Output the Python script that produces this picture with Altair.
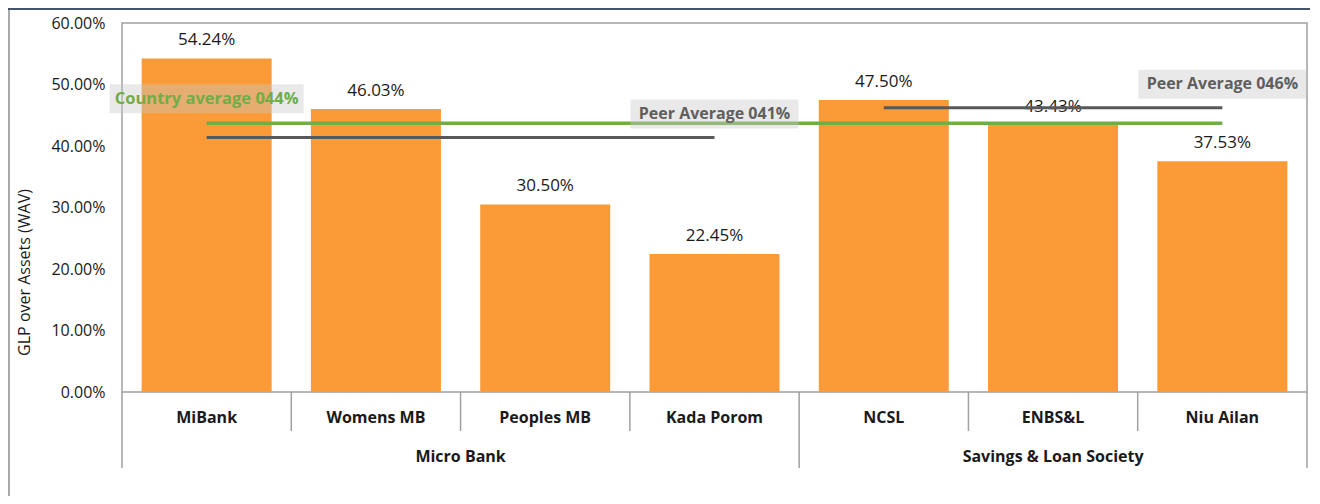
import altair as alt
import pandas as pd

# ---- data ----
categories = ["MiBank", "Womens MB", "Peoples MB", "Kada Porom", "NCSL", "ENBS&L", "Niu Ailan"]
groups = ["Micro Bank", "Micro Bank", "Micro Bank", "Micro Bank",
          "Savings & Loan Society", "Savings & Loan Society", "Savings & Loan Society"]
values = [0.5424, 0.4603, 0.3050, 0.2245, 0.4750, 0.4343, 0.3753]
group_names = ["Micro Bank", "Savings & Loan Society"]
peer_avgs = [0.414, 0.462]
peer_labels = ["Peer Average 041%", "Peer Average 046%"]
country_avg = 0.437
country_label = "Country average 044%"
y_ticks = [0.0, 0.1, 0.2, 0.3, 0.4, 0.5, 0.6]

# ---- style ----
FONT = "Open Sans"
ORANGE = "#FB9B37"
GREEN = "#70AD47"
GRAY_LINE = "#595959"
FRAME = "#A0A0A0"
W, H = 1185, 369

n = len(categories)
bars_df = pd.DataFrame({"idx": list(range(n)), "category": categories,
                        "group": groups, "value": values})

rows = []
for g, avg, lab in zip(group_names, peer_avgs, peer_labels):
    ids = [i for i, gg in enumerate(groups) if gg == g]
    rows.append({"group": g, "start": min(ids), "end": max(ids) + 1,
                 "avg": avg, "label": lab})
grp_df = pd.DataFrame(rows)

sep_rows = []
group_starts = set(grp_df["start"]) | {n}
for b in range(n + 1):
    sep_rows.append({"pos": b, "long": b in group_starts})
sep_df = pd.DataFrame(sep_rows)

country_df = pd.DataFrame({"first": [0], "last": [n - 1], "avg": [country_avg],
                           "label": [country_label]})

xscale = alt.Scale(domain=[0, n], nice=False, zero=False)
yscale = alt.Scale(domain=[0, 0.6], nice=False)

yaxis = alt.Axis(values=y_ticks, format=".2%", title="GLP over Assets (WAV)",
                 grid=False, ticks=False, domain=False,
                 labelFont=FONT, labelFontSize=16, labelColor="#1a1a1a", labelPadding=17,
                 titleFont=FONT, titleFontSize=16, titleFontWeight="normal",
                 titleColor="#1a1a1a", titleX=-98, titleY=249, titleAngle=270,
                 titleAlign="center", titleBaseline="middle")

base = alt.Chart(bars_df).transform_calculate(
    x0="datum.idx + 0.116", x1="datum.idx + 0.884", center="datum.idx + 0.5")

bars = base.mark_bar(color=ORANGE).encode(
    x=alt.X("x0:Q", scale=xscale, axis=None), x2="x1:Q",
    y=alt.Y("value:Q", scale=yscale, axis=yaxis), y2=alt.datum(0))

value_labels = base.mark_text(dy=-18, baseline="middle", font=FONT, fontSize=17,
                              color="#1a1a1a").encode(
    x=alt.X("center:Q", scale=xscale), y=alt.Y("value:Q", scale=yscale),
    text=alt.Text("value:Q", format=".2%"))

cat_labels = base.mark_text(baseline="middle", font=FONT, fontSize=16,
                            fontWeight="bold", color="#1a1a1a").encode(
    x=alt.X("center:Q", scale=xscale), y=alt.value(395), text="category:N")

gbase = alt.Chart(grp_df).transform_calculate(
    mid="(datum.start + datum.end) / 2",
    c0="datum.start + 0.5", c1="datum.end - 0.5")

group_labels = gbase.mark_text(baseline="middle", font=FONT, fontSize=16,
                               fontWeight="bold", color="#1a1a1a").encode(
    x=alt.X("mid:Q", scale=xscale), y=alt.value(434), text="group:N")

sbase = alt.Chart(sep_df)
short_sep = sbase.transform_filter("!datum.long").mark_rule(
    color=FRAME, strokeWidth=1.5).encode(
    x=alt.X("pos:Q", scale=xscale), y=alt.value(H), y2=alt.value(408))
long_sep = sbase.transform_filter("datum.long").mark_rule(
    color=FRAME, strokeWidth=1.5).encode(
    x=alt.X("pos:Q", scale=xscale), y=alt.value(H), y2=alt.value(445))

peer_lines = gbase.mark_rule(color=GRAY_LINE, strokeWidth=3).encode(
    x=alt.X("c0:Q", scale=xscale), x2="c1:Q", y=alt.Y("avg:Q", scale=yscale))

cbase = alt.Chart(country_df).transform_calculate(
    c0="datum.first + 0.5", c1="datum.last + 0.5")

country_line = cbase.mark_rule(color=GREEN, strokeWidth=3.5).encode(
    x=alt.X("c0:Q", scale=xscale), x2="c1:Q", y=alt.Y("avg:Q", scale=yscale))

peer_box = gbase.mark_rect(color="#C8C8C8", opacity=0.4,
                           xOffset=-84, x2Offset=84, yOffset=-38, y2Offset=-9).encode(
    x=alt.X("c1:Q", scale=xscale), x2="c1:Q",
    y=alt.Y("avg:Q", scale=yscale), y2="avg:Q")
peer_text = gbase.mark_text(dy=-23.5, baseline="middle", font=FONT, fontSize=16,
                            fontWeight="bold", color="#5F5F5F").encode(
    x=alt.X("c1:Q", scale=xscale), y=alt.Y("avg:Q", scale=yscale), text="label:N")

country_box = cbase.mark_rect(color="#C8C8C8", opacity=0.4,
                              xOffset=-97, x2Offset=97, yOffset=-39, y2Offset=-10).encode(
    x=alt.X("c0:Q", scale=xscale), x2="c0:Q",
    y=alt.Y("avg:Q", scale=yscale), y2="avg:Q")
country_text = cbase.mark_text(dy=-24.5, baseline="middle", font=FONT, fontSize=16.5,
                               fontWeight="bold", color=GREEN).encode(
    x=alt.X("c0:Q", scale=xscale), y=alt.Y("avg:Q", scale=yscale), text="label:N")

frame_df = pd.DataFrame({"a": [0]})
left_edge = alt.Chart(frame_df).mark_rule(color="#8C8C8C", strokeWidth=1.5).encode(
    x=alt.value(-113), y=alt.value(-15), y2=alt.value(H + 104))
top_edge = alt.Chart(frame_df).mark_rule(color="#44546A", strokeWidth=2).encode(
    x=alt.value(-114), x2=alt.value(W + 3), y=alt.value(-14))

chart = alt.layer(
    bars, value_labels, peer_lines, country_line,
    peer_box, country_box, peer_text, country_text,
    cat_labels, group_labels, short_sep, long_sep, left_edge, top_edge
).properties(
    width=W, height=H,
    autosize=alt.AutoSizeParams(type="none"),
    padding={"left": 114, "top": 15, "right": 3, "bottom": 104},
).configure_view(stroke=FRAME, strokeWidth=1.5)

chart.save("out.html", embed_options={"renderer": "svg", "actions": False})
